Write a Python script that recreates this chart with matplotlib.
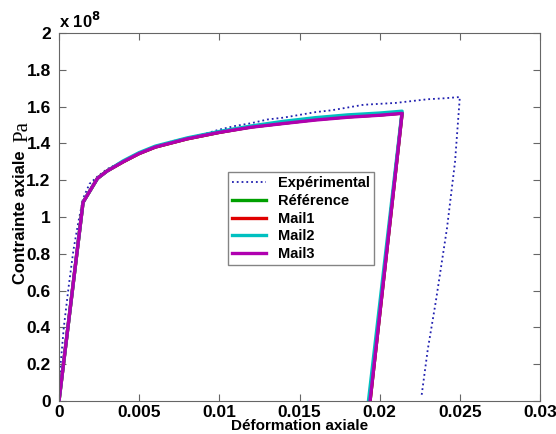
import numpy as np
import matplotlib
matplotlib.use('Agg')
from matplotlib import pyplot as plt

plt.rcParams['font.family'] = ['Liberation Sans', 'DejaVu Sans']
plt.rcParams['font.weight'] = 'bold'

# experimental curve (strain, stress in 1e8 Pa)
exp_x = [0, 0.0001, 0.0003, 0.0006, 0.0009, 0.0012, 0.0015, 0.0019, 0.0024, 0.003,
         0.004, 0.005, 0.006, 0.007, 0.008, 0.009, 0.010, 0.011, 0.012, 0.013,
         0.014, 0.015, 0.016, 0.017, 0.018, 0.019, 0.020, 0.021, 0.022, 0.023,
         0.024, 0.025, 0.0247, 0.0242, 0.0235, 0.0230, 0.0226]
exp_y = [0, 0.2, 0.4, 0.62, 0.82, 0.97, 1.1, 1.18, 1.22, 1.26,
         1.305, 1.35, 1.385, 1.41, 1.43, 1.45, 1.475, 1.495, 1.51, 1.53,
         1.54, 1.555, 1.57, 1.58, 1.595, 1.61, 1.615, 1.62, 1.63, 1.64,
         1.645, 1.652, 1.3, 0.94, 0.54, 0.28, 0.02]

# simulations
sim_x = [0, 0.0015, 0.0024, 0.003, 0.004, 0.005, 0.006, 0.008, 0.010, 0.012,
         0.014, 0.016, 0.018, 0.020, 0.0214, 0.0194]
ref_y = [0, 1.08, 1.21, 1.25, 1.30, 1.345, 1.38, 1.425, 1.46, 1.49,
         1.51, 1.53, 1.545, 1.555, 1.565, 0]
mail1_y = [0, 1.08, 1.21, 1.25, 1.30, 1.345, 1.38, 1.425, 1.46, 1.49,
           1.51, 1.53, 1.545, 1.555, 1.565, 0]
mail2_x = [0, 0.0015, 0.0024, 0.003, 0.004, 0.005, 0.006, 0.008, 0.010, 0.012,
           0.014, 0.016, 0.018, 0.020, 0.0214, 0.0193]
mail2_y = [0, 1.08, 1.21, 1.25, 1.305, 1.35, 1.385, 1.43, 1.465, 1.495,
           1.52, 1.54, 1.555, 1.565, 1.575, 0]
mail3_y = [0, 1.08, 1.21, 1.25, 1.30, 1.345, 1.38, 1.425, 1.46, 1.488,
           1.508, 1.527, 1.542, 1.553, 1.563, 0]

fig = plt.figure(figsize=(5.56, 4.34), dpi=100)
ax = fig.add_axes([59/556, 1 - 401/434, 481/556, 368/434])

ax.plot(exp_x, np.array(exp_y) * 1e8, color='#2020b0', linestyle=':', linewidth=1.3, label='Expérimental')
ax.plot(sim_x, np.array(ref_y) * 1e8, color='#00a000', linewidth=2.4, label='Référence')
ax.plot(sim_x, np.array(mail1_y) * 1e8, color='#e00000', linewidth=2.4, label='Mail1')
ax.plot(mail2_x, np.array(mail2_y) * 1e8, color='#00c0c0', linewidth=2.4, label='Mail2')
ax.plot(sim_x, np.array(mail3_y) * 1e8, color='#b000b0', linewidth=2.4, label='Mail3')

ax.set_xlim(0, 0.03)
ax.set_ylim(0, 2e8)
ax.set_xticks([0, 0.005, 0.01, 0.015, 0.02, 0.025, 0.03])
ax.set_xticklabels(['0', '0.005', '0.01', '0.015', '0.02', '0.025', '0.03'])
yt = [0, 0.2, 0.4, 0.6, 0.8, 1, 1.2, 1.4, 1.6, 1.8, 2]
ax.set_yticks(np.array(yt) * 1e8)
ax.set_yticklabels(['0', '0.2', '0.4', '0.6', '0.8', '1', '1.2', '1.4', '1.6', '1.8', '2'])
ax.tick_params(direction='in', length=5, top=True, right=True, labelsize=12.5, color='#666666')
ax.tick_params(axis='x', pad=3)
ax.tick_params(axis='y', pad=6)
for s in ax.spines.values():
    s.set_color('#666666')

# x label sits right at the bottom edge, as in the original
fig.text(0.5 * (59 + 540) / 556, 1 / 434, 'Déformation axiale', fontsize=11, fontweight='bold',
         ha='center', va='bottom')
ax.set_ylabel('Contrainte axiale', fontsize=12, fontweight='bold')
ax.yaxis.set_label_coords(-31/481, 0.5, transform=ax.transAxes)
ax.text(0.0, 1.005, r'x 10$^{8}$', transform=ax.transAxes, fontsize=12, fontweight='bold', va='bottom')
fig.text(23/556, 1 - 131/434, 'Pa', family='Liberation Serif', fontweight='normal', fontsize=15,
         rotation=90, ha='center', va='center')

leg = ax.legend(loc='upper left', bbox_to_anchor=(169/481, 229/368), borderaxespad=0, fontsize=10.5,
                frameon=True, fancybox=False, edgecolor='#666666', borderpad=0.3, labelspacing=0.25,
                handlelength=2.3, handletextpad=0.8)
leg.get_frame().set_linewidth(1.0)

fig.savefig('out.png', dpi=100)
